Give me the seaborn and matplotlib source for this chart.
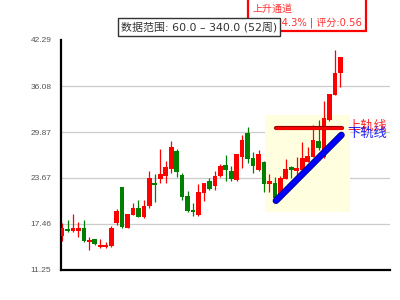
import numpy as np
import pandas as pd
import matplotlib
matplotlib.use("Agg")
import matplotlib.pyplot as plt
import matplotlib.patheffects as pe
from matplotlib.patches import Rectangle
import seaborn as sns

# ---------------- data ----------------
opens = [15.88, 16.78, 16.47, 16.55, 16.92, 14.99, 15.43, 14.39, 14.39, 14.49,
         17.63, 22.45, 16.92, 18.71, 19.61, 18.40, 19.88, 23.03, 23.49, 23.97,
         24.83, 27.30, 24.07, 21.23, 19.34, 18.67, 21.68, 23.26, 22.62, 24.00,
         25.41, 24.60, 23.39, 26.53, 29.73, 26.36, 24.74, 25.82, 22.92, 22.99,
         21.06, 23.57, 25.18, 24.65, 24.74, 25.82, 26.53, 28.65, 26.45, 31.48,
         34.90, 37.78]
closes = [16.96, 16.47, 16.96, 16.88, 15.16, 15.30, 14.72, 14.62, 14.62, 16.92,
          19.21, 17.01, 18.80, 19.61, 18.44, 19.88, 23.66, 22.76, 24.20, 25.14,
          27.88, 24.51, 21.14, 19.25, 19.11, 21.77, 23.03, 22.18, 23.93, 25.28,
          24.74, 23.53, 26.90, 28.79, 26.26, 25.28, 26.90, 22.92, 23.26, 21.00,
          23.70, 24.87, 24.78, 25.05, 26.40, 26.63, 28.79, 27.71, 31.71, 34.99,
          37.87, 40.02]
highs = [17.55, 17.99, 18.80, 17.73, 17.99, 15.74, 15.43, 15.43, 15.07, 17.19,
         19.48, 22.45, 18.80, 20.33, 20.69, 20.69, 24.60, 24.24, 27.61, 25.91,
         28.65, 27.57, 24.29, 21.95, 20.33, 22.85, 23.03, 23.60, 24.60, 25.55,
         26.76, 25.28, 26.90, 29.46, 30.54, 27.17, 27.44, 25.95, 24.20, 23.80,
         23.93, 26.26, 25.32, 26.53, 28.52, 27.80, 30.81, 31.48, 34.05, 35.00,
         40.93, 40.02]
lows = [15.20, 16.38, 16.38, 15.74, 15.03, 13.95, 14.62, 14.18, 14.18, 14.39,
        17.28, 16.92, 16.92, 18.63, 18.44, 18.31, 19.65, 20.46, 23.03, 23.03,
        24.29, 23.84, 20.69, 19.11, 18.58, 18.53, 20.60, 22.04, 22.04, 23.84,
        23.26, 23.26, 23.26, 25.05, 25.72, 24.38, 24.60, 21.81, 21.81, 20.87,
        20.87, 23.53, 23.70, 24.07, 24.60, 25.78, 26.45, 27.44, 26.32, 31.40,
        34.86, 35.98]

y_ticks = [11.25, 17.46, 23.67, 29.87, 36.08, 42.29]
y_tick_labels = ["11.25", "17.46", "23.67", "29.87", "36.08", "42.29"]

upper_x = [39.2, 51.3]
upper_y = [30.48, 30.48]
lower_x = [39.2, 51.2]
lower_y = [20.60, 29.47]
zone_x = [37.2, 52.8]
zone_y = [19.12, 32.17]

range_label = "数据范围: 60.0 – 340.0 (52周)"
pattern_title = "上升通道"
pattern_detail = "涨幅:14.3% | 评分:0.56"
upper_label = "上轨线"
lower_label = "下轨线"

# ---------------- style ----------------
sns.set_style("white")
plt.rcParams["font.family"] = ["Noto Sans CJK SC", "DejaVu Sans"]
MIXED = ["DejaVu Sans", "Noto Sans CJK SC"]

df = pd.DataFrame({"open": opens, "close": closes, "high": highs, "low": lows})
df["idx"] = np.arange(len(df))
df["up"] = df["close"] >= df["open"]
df["color"] = np.where(df["up"], "#ff0000", "#008000")

fig = plt.figure(figsize=(4, 3), dpi=100)
ax = fig.add_axes([61 / 400, 30 / 300, 329 / 400, 230 / 300])

ax.set_xlim(-0.2, 60.1)
ax.set_ylim(y_ticks[0], y_ticks[-1])

# gridlines (inner ticks)
for t in y_ticks[1:-1]:
    ax.axhline(t, color="#cccccc", lw=0.9, zorder=0)

# channel zone
ax.add_patch(Rectangle((zone_x[0], zone_y[0]), zone_x[1] - zone_x[0],
                       zone_y[1] - zone_y[0], facecolor="#ffffdf",
                       edgecolor="none", zorder=1))

# wicks
ax.vlines(df["idx"], df["low"], df["high"], colors=df["color"], lw=0.9, zorder=2)
# bodies
body_bottom = np.minimum(df["open"], df["close"])
body_h = np.maximum(np.abs(df["close"] - df["open"]), 0.12)
ax.bar(df["idx"], body_h, bottom=body_bottom, width=0.86,
       color=df["color"], edgecolor="none", zorder=3)

# channel lines
sns.lineplot(x=upper_x, y=upper_y, ax=ax, color="#ff0000", lw=2.0,
             estimator=None, sort=False, zorder=4,
             path_effects=[pe.Stroke(linewidth=3.0, foreground="#990000"), pe.Normal()])
sns.lineplot(x=lower_x, y=lower_y, ax=ax, color="#0000ff", lw=3.6,
             estimator=None, sort=False, zorder=4,
             path_effects=[pe.Stroke(linewidth=4.8, foreground="#000080"), pe.Normal()])

ax.text(52.2, 30.68, upper_label, color="#ff0000", alpha=0.85, fontsize=9.5,
        va="center", ha="left", zorder=5)
ax.text(52.2, 29.73, lower_label, color="#0000ff", alpha=0.85, fontsize=9.5,
        va="center", ha="left", zorder=5)

# axes styling
ax.set_yticks(y_ticks)
ax.set_yticklabels(y_tick_labels, fontsize=6, color="#555555",
                   family=["Liberation Sans", "DejaVu Sans"])
ax.set_xticks([])
ax.tick_params(axis="y", length=0, pad=7)
for s in ["top", "right"]:
    ax.spines[s].set_visible(False)
for s in ["left", "bottom"]:
    ax.spines[s].set_color("black")
    ax.spines[s].set_linewidth(1.6)
ax.set_xlabel("")
ax.set_ylabel("")

# pattern box (red), partly above figure top
fig.patches.append(Rectangle((248 / 400, 1 - 31 / 300), 118 / 400, 40 / 300,
                             transform=fig.transFigure, facecolor="white",
                             edgecolor="#ff0000", lw=1.6, zorder=5))
fig.text(253 / 400, 1 - 8.5 / 300, pattern_title, color="#ff3030", fontsize=7.2,
         va="center", ha="left", zorder=6)
fig.text(362 / 400, 1 - 23 / 300, pattern_detail, color="#ff3030", fontsize=7.2,
         va="center", ha="right", zorder=6, family=MIXED)

# data range box
fig.text(199 / 400, 1 - 27 / 300, range_label, color="#333333", fontsize=7.9,
         va="center", ha="center", zorder=10, family=MIXED,
         bbox=dict(boxstyle="square,pad=0.3", facecolor="white",
                   edgecolor="#333333", lw=1.0))

fig.savefig("out.png", dpi=100)
